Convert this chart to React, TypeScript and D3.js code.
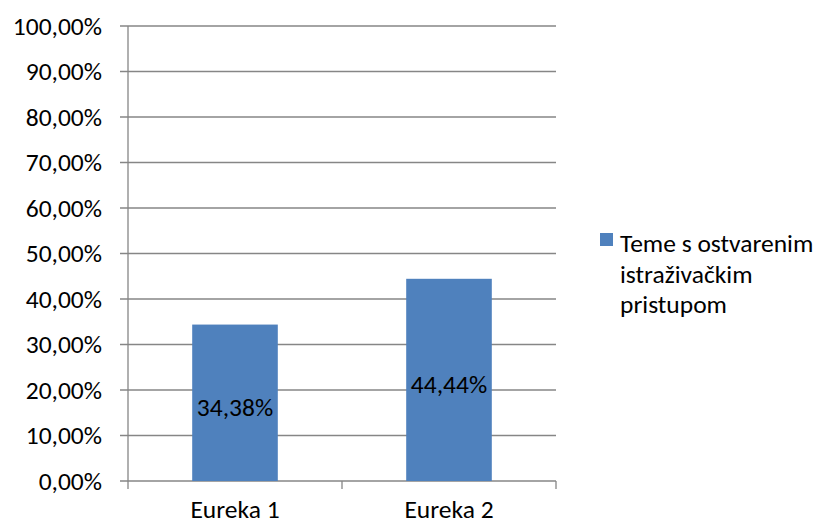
import React from 'react'
import * as d3 from 'd3'

const categories = ['Eureka 1', 'Eureka 2']
const values = [34.38, 44.44]
const yTicks = [0, 10, 20, 30, 40, 50, 60, 70, 80, 90, 100]
const legendLines = ['Teme s ostvarenim', 'istraživačkim', 'pristupom']

const W = 826
const H = 526
const left = 128
const right = 556
const top = 26
const bottom = 481
const font = "Carlito, Calibri, Lato, sans-serif"
const fs = 25.5
const barColor = '#4F81BD'
const gridColor = '#868686'

const fmt = (v: number) => v.toFixed(2).replace('.', ',') + '%'

const App: React.FC = () => {
  const x = d3.scaleBand<string>().domain(categories).range([left, right])
  const y = d3.scaleLinear().domain([0, 100]).range([bottom, top])
  const barW = x.bandwidth() * 0.4

  return (
    <svg width={W} height={H} style={{ position: 'absolute', left: 0, top: 0 }} fontFamily={font}>
      <rect width={W} height={H} fill="#fff" />
      {yTicks.map(t => (
        <g key={t}>
          <line x1={left - 8} x2={right} y1={y(t)} y2={y(t)} stroke={gridColor} strokeWidth={1.3} />
          <text x={102} y={y(t)} dy="0.35em" textAnchor="end" fontSize={fs} fill="#000">
            {fmt(t)}
          </text>
        </g>
      ))}
      <line x1={left} x2={left} y1={top} y2={bottom} stroke={gridColor} strokeWidth={1.3} />
      {[left, left + x.bandwidth(), right].map((tx, i) => (
        <line key={i} x1={tx} x2={tx} y1={bottom} y2={bottom + 8} stroke={gridColor} strokeWidth={1.3} />
      ))}
      {categories.map((c, i) => {
        const cx = (x(c) || 0) + x.bandwidth() / 2
        const yTop = y(values[i])
        return (
          <g key={c}>
            <rect x={cx - barW / 2} y={yTop} width={barW} height={bottom - yTop} fill={barColor} />
            <text x={cx} y={(yTop + bottom) / 2 + 4} dy="0.35em" textAnchor="middle" fontSize={fs} fill="#000">
              {fmt(values[i])}
            </text>
            <text x={cx} y={518} textAnchor="middle" fontSize={fs} fill="#000">
              {c}
            </text>
          </g>
        )
      })}
      <rect x={600} y={233} width={13} height={13} fill={barColor} />
      {legendLines.map((l, i) => (
        <text key={i} x={620} y={252 + i * 30.5} fontSize={fs} fill="#000">
          {l}
        </text>
      ))}
    </svg>
  )
}

export default App
